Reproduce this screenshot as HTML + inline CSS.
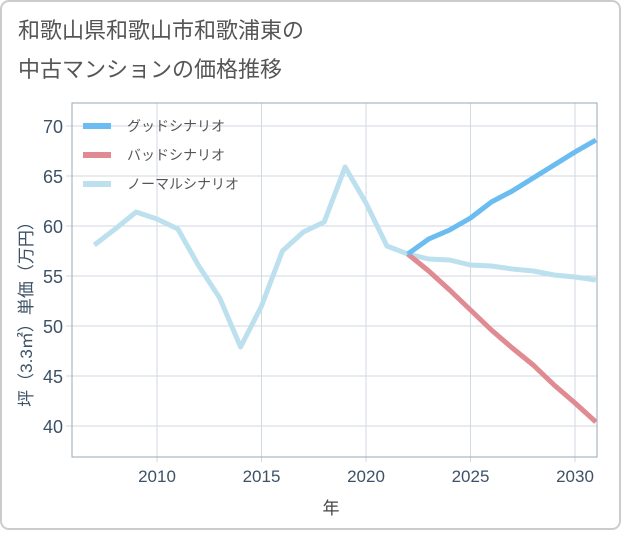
<!DOCTYPE html>
<html><head><meta charset="utf-8"><style>
body{margin:0;background:#fff;}
svg text{font-family:"Liberation Sans","Noto Sans CJK JP",sans-serif;}
</style></head><body>
<svg width="621" height="530" xmlns="http://www.w3.org/2000/svg">
<rect x="1" y="1" width="619" height="528" rx="8" fill="#fff" stroke="#ccc" stroke-width="2"/>
<text x="18" y="38" font-size="22" fill="#555">和歌山県和歌山市和歌浦東の</text>
<text x="18" y="77" font-size="22" fill="#555">中古マンションの価格推移</text>
<g id="grid"></g>
<rect x="72" y="103" width="525" height="354" fill="none" stroke="#9aa8b5" stroke-width="1"/>
<g id="series"></g>
<g id="legend"></g>
<text x="331" y="514" font-size="17" fill="#444" text-anchor="middle">年</text>
<text transform="translate(32,310) rotate(-90)" font-size="17" fill="#3d5266" text-anchor="middle">坪（3.3㎡）単価（万円）</text>
</svg>
<script>
const years=[2007,2008,2009,2010,2011,2012,2013,2014,2015,2016,2017,2018,2019,2020,2021,2022,2023,2024,2025,2026,2027,2028,2029,2030,2031];
const normal=[58.1,59.7,61.4,60.7,59.7,56,52.8,47.9,52,57.5,59.4,60.4,65.9,62.3,58,57.2,56.7,56.6,56.1,56,55.7,55.5,55.1,54.9,54.6];
const futureYears=[2022,2023,2024,2025,2026,2027,2028,2029,2030,2031];
const good=[57.2,58.7,59.6,60.8,62.4,63.5,64.8,66.1,67.4,68.6];
const bad=[57.2,55.5,53.6,51.6,49.6,47.8,46.1,44.1,42.3,40.4];
const xTicks=[2010,2015,2020,2025,2030];
const yTicks=[40,45,50,55,60,65,70];
const legendNames=["グッドシナリオ","バッドシナリオ","ノーマルシナリオ"];
const colors=["#6bbcf0","#e08a92","#bde0ef"];
const NS="http://www.w3.org/2000/svg";
const X=v=>157+(v-2010)*20.9;
const Y=v=>126+(70-v)*10;
function mk(t,a,p){const e=document.createElementNS(NS,t);for(const k in a)e.setAttribute(k,a[k]);p.appendChild(e);return e;}
const g=document.getElementById('grid');
xTicks.forEach(t=>{
 const l=mk('line',{x1:X(t),x2:X(t),y1:103,y2:462,stroke:'#d0dae3'},g);
 
 
 const tx=mk('text',{x:X(t),y:482,'font-size':17,fill:'#3d5266','text-anchor':'middle'},g);tx.textContent=t;
 
 
});
yTicks.forEach(t=>{
 const l=mk('line',{x1:66,x2:597,y1:Y(t),y2:Y(t),stroke:'#d0dae3'},g);
 
 
 const tx=mk('text',{x:63,y:Y(t)+7,'font-size':18,fill:'#3d5266','text-anchor':'end'},g);tx.textContent=t;
 
 
});
const s=document.getElementById('series');
const cp=mk('clipPath',{id:'cp'},s);mk('rect',{x:72,y:103,width:525,height:354},cp);
function line(xs,ys,c,name){
 const p=mk('polyline',{points:xs.map((x,i)=>X(x)+','+Y(ys[i])).join(' '),fill:'none',stroke:c,'stroke-width':5,'stroke-linejoin':'round','clip-path':'url(#cp)'},s);
 
 
}
line(years,normal,colors[2],'normal-scenario-line');
line(futureYears,bad,colors[1],'bad-scenario-line');
line(futureYears,good,colors[0],'good-scenario-line');
const lg=document.getElementById('legend');
legendNames.forEach((n,i)=>{
 const y=126+i*29;
 const l=mk('line',{x1:83,x2:111,y1:y,y2:y,stroke:colors[i],'stroke-width':6},lg);
 
 
 const t=mk('text',{x:127,y:y+5,'font-size':14,fill:'#555'},lg);t.textContent=n;
 
 
});
</script>
</body></html>
